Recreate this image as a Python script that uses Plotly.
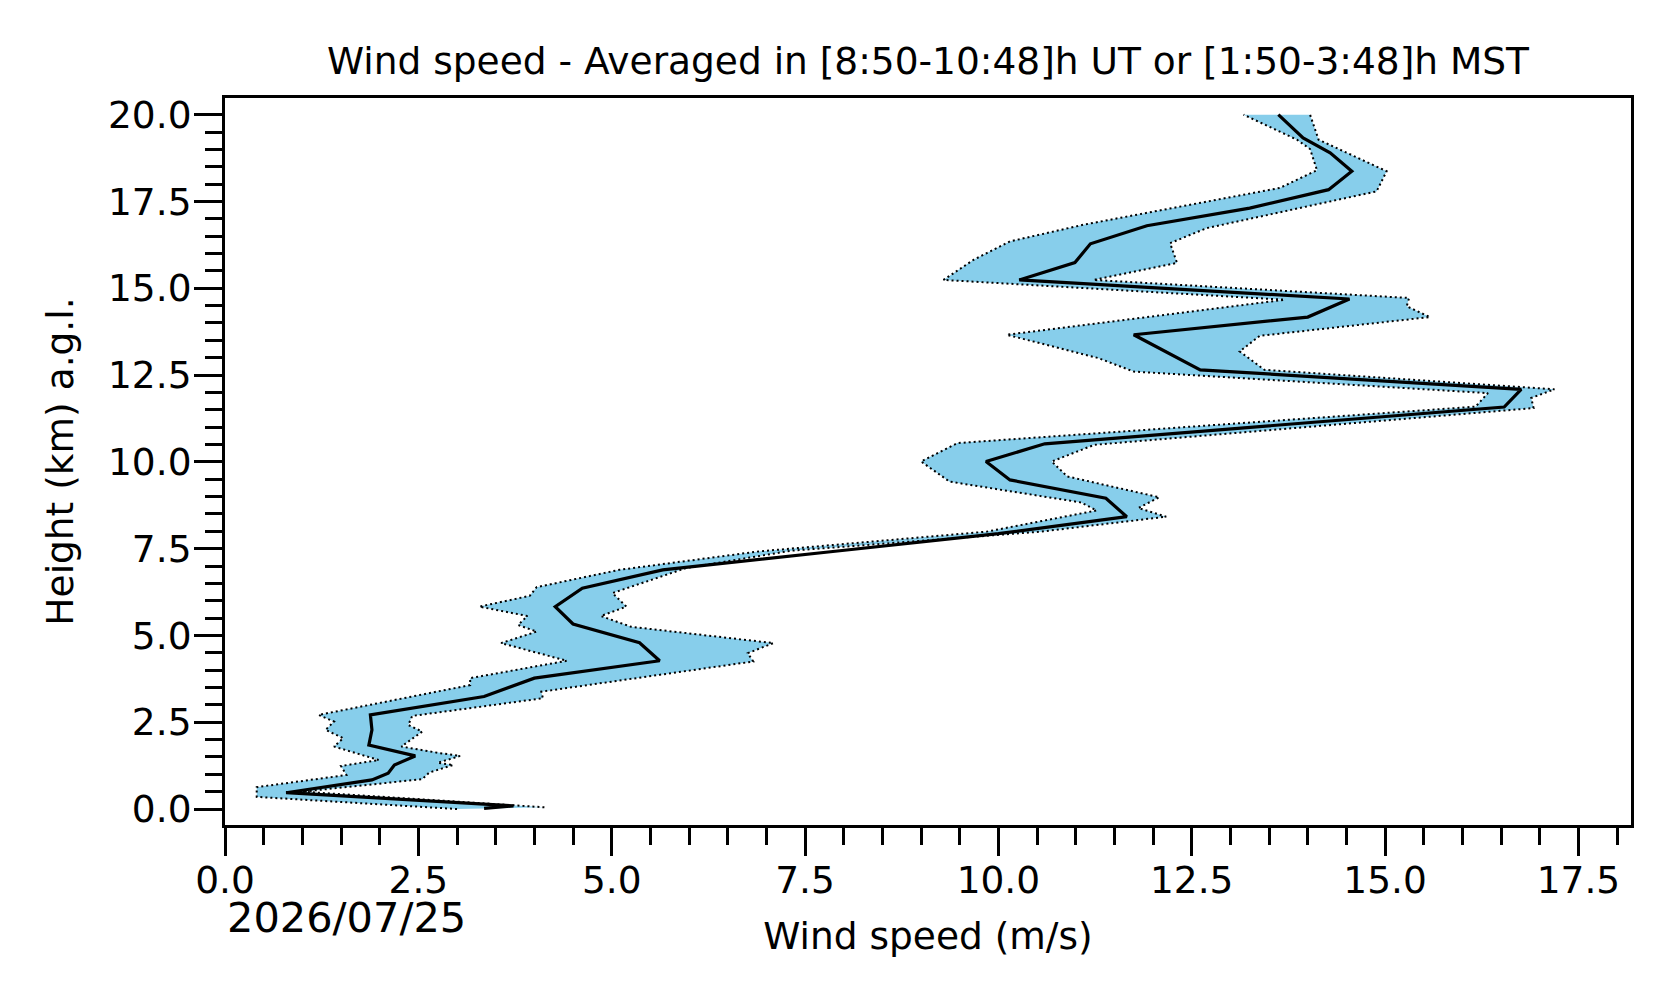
import plotly.graph_objects as go

# mean wind speed profile (height km, speed m/s)
mean_height = [0.02, 0.09, 0.47, 0.84, 1.03, 1.27, 1.53, 1.84, 2.28, 2.71, 3.24, 3.77,
               4.27, 4.79, 5.33, 5.83, 6.36, 6.89, 7.41, 7.93, 8.42, 8.95, 9.48, 10.01,
               10.52, 11.58, 12.09, 12.65, 13.66, 14.17, 14.69, 15.24, 15.74, 16.28,
               16.80, 17.31, 17.84, 18.37, 18.90, 19.33, 20.0]
mean_speed = [3.35, 3.73, 0.79, 1.90, 2.11, 2.19, 2.46, 1.86, 1.90, 1.88, 3.35, 4.00,
              5.62, 5.36, 4.50, 4.27, 4.62, 5.66, 7.83, 10.00, 11.66, 11.39, 10.15, 9.84,
              10.60, 16.54, 16.76, 12.61, 11.75, 14.00, 14.54, 10.27, 10.99, 11.19,
              11.92, 13.25, 14.27, 14.57, 14.29, 13.94, 13.62]

# lower edge of the spread band
low_height = [0.00, 0.35, 0.63, 0.98, 1.24, 1.41, 1.80, 2.04, 2.28, 2.52, 2.71, 3.57,
              3.77, 4.27, 4.78, 5.11, 5.30, 5.56, 5.83, 6.14, 6.39, 6.89, 7.42, 7.99,
              8.60, 8.83, 9.43, 10.01, 10.54, 11.59, 11.98, 12.60, 12.99, 13.66, 14.67,
              15.24, 15.82, 16.35, 16.83, 17.89, 18.40, 19.01, 19.28, 20.0]
low_speed = [3.00, 0.41, 0.41, 1.57, 1.50, 1.99, 1.41, 1.53, 1.30, 1.41, 1.21, 3.17,
             3.17, 4.42, 3.57, 4.03, 3.79, 3.91, 3.29, 3.94, 4.03, 5.10, 6.90, 9.85,
             11.27, 11.07, 9.37, 9.00, 9.47, 16.17, 16.33, 11.75, 11.29, 10.11, 13.70,
             9.29, 9.68, 10.15, 11.10, 13.64, 14.12, 14.03, 13.86, 13.17]

# upper edge of the spread band
high_height = [0.05, 0.50, 0.86, 1.05, 1.27, 1.33, 1.53, 1.62, 1.80, 2.23, 2.42, 2.68,
               3.19, 3.38, 4.25, 4.49, 4.78, 5.25, 5.56, 5.83, 6.22, 6.94, 7.44, 7.99,
               8.42, 8.67, 8.98, 9.58, 10.01, 10.49, 11.55, 11.84, 12.09, 12.65, 13.18,
               13.63, 14.17, 14.48, 14.72, 15.24, 15.73, 16.30, 16.73, 17.79, 18.37,
               19.28, 20.0]
high_speed = [4.13, 1.00, 2.55, 2.64, 2.95, 2.75, 3.04, 2.75, 2.28, 2.55, 2.37, 2.42,
              4.11, 4.09, 6.83, 6.76, 7.09, 5.25, 4.86, 5.19, 5.01, 5.96, 7.32, 10.55,
              12.17, 11.81, 12.08, 10.89, 10.69, 11.24, 16.92, 16.89, 17.19, 13.44, 13.12,
              13.38, 15.58, 15.28, 15.31, 11.23, 12.31, 12.22, 12.69, 14.89, 15.02,
              14.14, 14.03]

title = "Wind speed - Averaged in [8:50-10:48]h UT or [1:50-3:48]h MST"
date_label = "2026/07/25"

fig = go.Figure()

# filled band between the two edges
fig.add_trace(go.Scatter(
    x=low_speed + high_speed[::-1],
    y=low_height + high_height[::-1],
    fill="toself", fillcolor="#87CEEB",
    line=dict(width=0), mode="lines", hoverinfo="skip", showlegend=False
))

for xs, ys in [(low_speed, low_height), (high_speed, high_height)]:
    fig.add_trace(go.Scatter(
        x=xs, y=ys, mode="lines",
        line=dict(color="black", width=2, dash="2px,3px"),
        showlegend=False
    ))

fig.add_trace(go.Scatter(
    x=mean_speed, y=mean_height, mode="lines",
    line=dict(color="black", width=3.2), showlegend=False
))

axis_style = dict(
    showgrid=False, zeroline=False,
    showline=True, linecolor="black", linewidth=3, mirror=True,
    ticks="outside", ticklen=28, tickwidth=3, tickcolor="black",
    tickformat=".1f", tick0=0, dtick=2.5,
    tickfont=dict(size=37.5, color="black"),
    minor=dict(dtick=0.5, ticks="outside", ticklen=17, tickwidth=2.5, tickcolor="black"),
)

# the page body adds an 8px offset, so the figure is 8px smaller
fig.update_layout(
    width=1668, height=995,
    margin=dict(l=217, r=45, t=90, b=178),
    paper_bgcolor="white", plot_bgcolor="white",
    font=dict(family="DejaVu Sans", size=37.5, color="black"),
    title=dict(text=title, x=0.5516, xanchor="center", y=0.9467, yanchor="middle",
               font=dict(size=37.5)),
    xaxis=dict(range=[0, 18.18], ticklabelstandoff=-8,
               title=dict(text="Wind speed (m/s)", font=dict(size=37.5), standoff=22),
               **axis_style),
    yaxis=dict(range=[-0.46, 20.48], ticklabelstandoff=-5,
               title=dict(text="Height (km) a.g.l.", font=dict(size=37.5), standoff=23),
               **axis_style),
    annotations=[dict(text=date_label, xref="paper", yref="paper", x=0.0, y=-0.127,
                      xanchor="left", yanchor="middle", showarrow=False,
                      font=dict(size=41.5, color="black"))],
)

fig.write_html("out.html")
